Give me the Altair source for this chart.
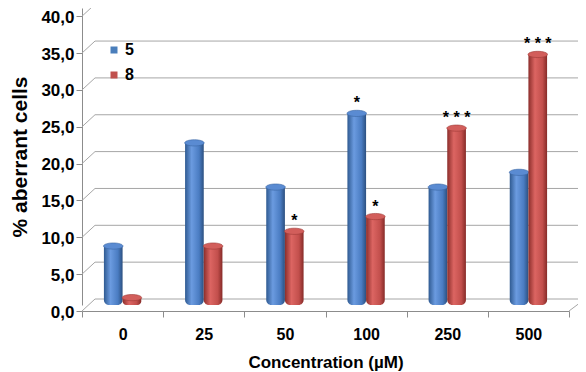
import json
import altair as alt
import pandas as pd

# ---- data ----
categories = ["0", "25", "50", "100", "250", "500"]
series_names = ["5", "8"]
values_5 = [8, 22, 16, 26, 16, 18]
values_8 = [1, 8, 10, 12, 24, 34]
stars_5 = ["", "", "", "*", "", ""]
stars_8 = ["", "", "*", "*", "* * *", "* * *"]
y_ticks = [0, 5, 10, 15, 20, 25, 30, 35, 40]

rows = []
for i, c in enumerate(categories):
    rows.append(dict(idx=i, cat=c, series=series_names[0], value=values_5[i], star=stars_5[i], side=-1))
    rows.append(dict(idx=i, cat=c, series=series_names[1], value=values_8[i], star=stars_8[i], side=1))
df = pd.DataFrame(rows)
grid_df = pd.DataFrame({"v": y_ticks})
floor_df = pd.DataFrame({"v": [0]})

FONT = "Liberation Sans"
BLUE = "#4a7ebb"
RED = "#c0504d"
GRID = "#a6a6a6"
AXIS = "#8c8c8c"
BW = 0.23
ELLIPSE = "M -1 0 A 1 0.32 0 1 1 1 0 A 1 0.32 0 1 1 -1 0 Z"

xscale = alt.Scale(domain=[-0.5, 5.5], nice=False, zero=False)
yscale = alt.Scale(domain=[0, 40.3], nice=False)

label_expr = "%s[datum.value]" % json.dumps(categories)

y_axis = alt.Axis(
    values=y_ticks, labelExpr="replace(format(datum.value, '.1f'), '.', ',')",
    title="% aberrant cells", titleFont=FONT, titleFontSize=21, titleFontWeight="bold",
    titleColor="#000", titlePadding=10,
    labelFont=FONT, labelFontSize=17, labelFontWeight="bold", labelColor="#000",
    labelPadding=2, tickOffset=6, labelOffset=1, tickSize=6, tickColor=AXIS, domainColor=AXIS,
    grid=False,
)

x_label_axis = alt.Axis(
    values=list(range(len(categories))), labelExpr=label_expr,
    title="Concentration (\u00b5M)", titleFont=FONT, titleFontSize=17, titleFontWeight="bold",
    titleColor="#000", titlePadding=12,
    labelFont=FONT, labelFontSize=16, labelFontWeight="bold", labelColor="#000",
    labelPadding=15, ticks=False, domainColor=AXIS, grid=False, offset=6, orient="bottom",
)
x_tick_axis = alt.Axis(
    values=[i - 0.5 for i in range(len(categories) + 1)], labels=False, title=None,
    ticks=True, tickSize=6, tickColor=AXIS, domain=False, grid=False, offset=6, orient="bottom",
)

def grad(c0, c1, c2, c3):
    return alt.LinearGradient(
        gradient="linear", x1=0, x2=1, y1=0, y2=0,
        stops=[alt.GradientStop(offset=0, color=c0), alt.GradientStop(offset=0.35, color=c1),
               alt.GradientStop(offset=0.75, color=c2), alt.GradientStop(offset=1, color=c3)],
    )

base = alt.Chart(df).transform_calculate(
    x0=f"datum.side < 0 ? datum.idx - {BW} : datum.idx",
    x1=f"datum.side < 0 ? datum.idx : datum.idx + {BW}",
    xc=f"datum.idx + datum.side * {BW / 2}",
)

grid = alt.Chart(grid_df).mark_rule(color=GRID, yOffset=-6, strokeWidth=1).encode(
    y=alt.Y("v:Q", scale=yscale, axis=y_axis), x=alt.value(13), x2=alt.value(503)
)
slants = alt.Chart(grid_df).mark_rule(color=GRID, yOffset=6, y2Offset=-6).encode(
    y=alt.Y("v:Q", scale=yscale, axis=y_axis), y2="v:Q", x=alt.value(0), x2=alt.value(13)
)
floor_r = alt.Chart(floor_df).mark_rule(color=GRID, yOffset=6, y2Offset=-6).encode(
    y=alt.Y("v:Q", scale=yscale, axis=y_axis), y2="v:Q", x=alt.value(487), x2=alt.value(503)
)

bar_style = dict(cornerRadiusBottomLeft=5, cornerRadiusBottomRight=5)

series_style = [
    (-1, ("#2f5a91", "#6b9be0", "#4a7cc2", "#2c5080"), "#5a8bd2", "#3a66a2", x_label_axis),
    (1, ("#8c2e2b", "#dc6562", "#c24f4c", "#862b28"), "#d25e5b", "#9e3a37", x_tick_axis),
]

layers = [grid, slants, floor_r]
for side, stops, cap_fill, cap_stroke, xaxis in series_style:
    sel = base.transform_filter(alt.datum.side == side)
    layers.append(sel.mark_bar(color=grad(*stops), **bar_style).encode(
        x=alt.X("x0:Q", scale=xscale, axis=xaxis), x2="x1:Q",
        y=alt.Y("value:Q", scale=yscale, axis=y_axis), y2=alt.datum(0),
    ))
    layers.append(sel.mark_point(shape=ELLIPSE, size=380, filled=True, opacity=1,
                                 fill=cap_fill, stroke=cap_stroke, strokeWidth=0.6).encode(
        x=alt.X("xc:Q", scale=xscale, axis=None),
        y=alt.Y("value:Q", scale=yscale, axis=y_axis),
    ))

stars = base.mark_text(font=FONT, fontSize=16, fontWeight="bold", color="#000",
                       baseline="alphabetic", dy=-5).encode(
    x=alt.X("xc:Q", scale=xscale, axis=None),
    y=alt.Y("value:Q", scale=yscale, axis=y_axis),
    text="star:N",
)

legend_layer = base.mark_square(size=0, opacity=0).encode(
    x=alt.X("xc:Q", scale=xscale, axis=None),
    y=alt.Y("value:Q", scale=yscale, axis=y_axis),
    color=alt.Color("series:N", scale=alt.Scale(domain=series_names, range=[BLUE, RED]),
                    legend=alt.Legend(orient="none", legendX=24, legendY=34, title=None,
                                      symbolType="square", symbolSize=49, symbolOpacity=1,
                                      symbolStrokeWidth=0, labelFont=FONT, labelFontSize=16,
                                      labelFontWeight="bold", labelColor="#000", labelOffset=3,
                                      rowPadding=9, padding=0)),
)
layers += [stars, legend_layer]

chart = alt.layer(*layers).resolve_axis(
    x="independent"
).properties(
    width=487, height=297,
    padding={"left": 74, "top": 0, "right": 9, "bottom": 66},
    autosize=alt.AutoSizeParams(type="none"),
).configure_view(stroke=None)

chart.save("out.html", embed_options={"renderer": "svg", "actions": False})
